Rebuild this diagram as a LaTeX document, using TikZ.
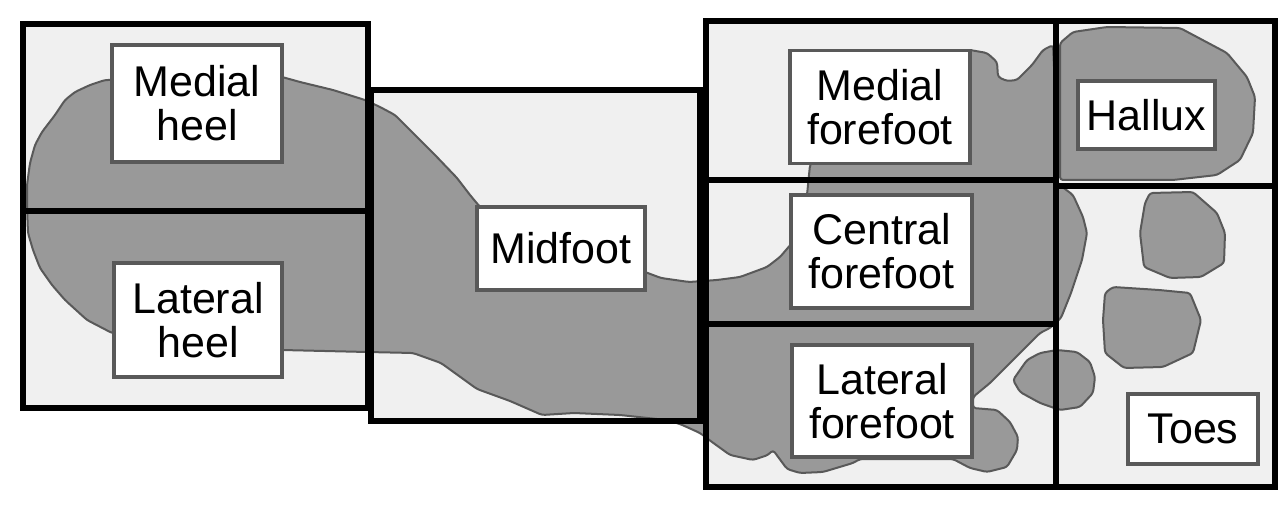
\documentclass[tikz,border=0pt]{standalone}
\usepackage{fontspec}
\setmainfont{Liberation Sans}
\definecolor{padgray}{gray}{0.94}
\definecolor{printgray}{gray}{0.6}
\definecolor{edgegray}{gray}{0.35}
\begin{document}
\begin{tikzpicture}[x=1pt,y=-1pt,
    region/.style={line width=6pt},
    print/.style={fill=printgray, draw=edgegray, line width=2pt, line join=round, rounded corners=3pt},
    lbl/.style={draw=edgegray, line width=3.5pt, fill=white, align=center, inner sep=0pt,
      font=\fontsize{43}{44}\selectfont}]
  \useasboundingbox (0,0) rectangle (1280,510);
  % light pads
  \fill[padgray] (23,24) rectangle (368,408);
  \fill[padgray] (370,90) rectangle (700,421);
  \fill[padgray] (706,21) rectangle (1275,487);
  % foot print
  \draw[print] (27,207) -- (27,185) -- (30,163) -- (35,145) -- (42,132) -- (55,115) -- (65,100)
    -- (75,92) -- (90,85) -- (105,80) -- (112,80) -- (200,72) -- (282,77) -- (300,82) -- (333,90)
    -- (365,100) -- (380,107) -- (395,115) -- (413,133) -- (435,155) -- (457,178) -- (470,195)
    -- (480,207) -- (560,245) -- (645,272) -- (661,278) -- (689,282) -- (717,280) -- (740,277)
    -- (767,267) -- (780,257) -- (792,243) -- (800,215) -- (807,195) -- (810,165) -- (860,80)
    -- (930,52) -- (970,50) -- (987,53) -- (997,62) -- (998,77) -- (1007,81) -- (1017,80)
    -- (1032,65) -- (1043,50) -- (1053,45) -- (1056,110) -- (1057,183) -- (1073,195) -- (1083,217)
    -- (1087,233) -- (1082,260) -- (1071,293) -- (1061,318) -- (1050,328) -- (1040,333)
    -- (1013,360) -- (990,383) -- (973,397) -- (973,408) -- (997,410) -- (1010,422) -- (1018,437)
    -- (1017,450) -- (1007,467) -- (987,472) -- (970,468) -- (953,459) -- (860,459) -- (853,463)
    -- (823,472) -- (800,473) -- (787,469) -- (773,450) -- (768,455) -- (753,460) -- (730,455)
    -- (712,442) -- (700,433) -- (680,424) -- (666,420) -- (620,415) -- (574,413) -- (542,415)
    -- (510,401) -- (477,389) -- (441,363) -- (413,353) -- (367,352) -- (282,350) -- (200,345)
    -- (112,333) -- (87,320) -- (65,300) -- (52,285) -- (40,268) -- (33,250) -- (28,233) -- cycle;
  % hallux and toes
  \draw[print] (1060,180) -- (1060,43) -- (1073,32) -- (1107,27) -- (1180,28) -- (1227,53)
    -- (1247,77) -- (1255,97) -- (1253,133) -- (1240,160) -- (1217,175) -- (1173,180) -- cycle;
  \draw[print] (1150,193) -- (1193,192) -- (1217,213) -- (1225,233) -- (1224,263) -- (1201,277)
    -- (1170,278) -- (1144,267) -- (1140,233) -- (1145,203) -- cycle;
  \draw[print] (1113,287) -- (1159,290) -- (1190,293) -- (1201,320) -- (1193,353) -- (1163,367)
    -- (1124,368) -- (1105,353) -- (1103,320) -- (1105,293) -- cycle;
  \draw[print] (1013,380) -- (1027,360) -- (1040,353) -- (1057,350) -- (1077,352) -- (1090,362)
    -- (1095,377) -- (1093,393) -- (1080,407) -- (1060,410) -- (1040,403) -- (1020,392) -- cycle;
  % region borders
  \draw[region] (23,24) rectangle (368,408);
  \draw[region] (23,211) -- (368,211);
  \draw[region] (371,90) rectangle (700,421);
  \draw[region] (706,21) rectangle (1275,487);
  \draw[region] (1056,21) -- (1056,487);
  \draw[region] (706,180) -- (1056,180);
  \draw[region] (706,324) -- (1056,324);
  \draw[region] (1056,186) -- (1275,186);
  % labels
  \node[lbl, minimum width=170pt, minimum height=117pt] (mheel) at (197,103.5) {Medial\\heel};
  \node[lbl, minimum width=168pt, minimum height=114pt] (lheel) at (198,320) {Lateral\\heel};
  \node[lbl, minimum width=168pt, minimum height=83pt] (mid) at (561,248.5) {Midfoot};
  \node[lbl, minimum width=180pt, minimum height=113pt] (mfore) at (880,107) {Medial\\forefoot};
  \node[lbl, minimum width=181pt, minimum height=113pt] (cfore) at (881.5,251.5) {Central\\forefoot};
  \node[lbl, minimum width=180pt, minimum height=112pt] (lfore) at (882,401) {Lateral\\forefoot};
  \node[lbl, minimum width=137pt, minimum height=68pt] (hallux) at (1146.5,115) {Hallux};
  \node[lbl, minimum width=130pt, minimum height=70pt] (toes) at (1193,429) {Toes};
\end{tikzpicture}
\end{document}
